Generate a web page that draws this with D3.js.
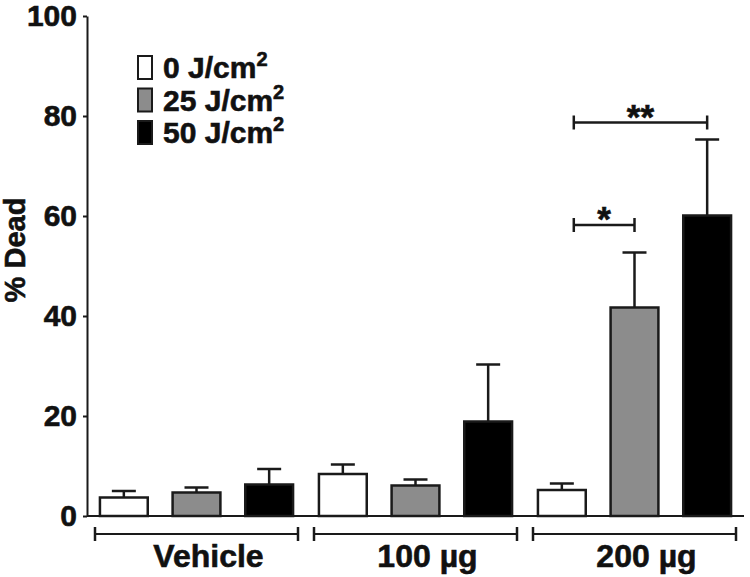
<!DOCTYPE html>
<html>
<head>
<meta charset="utf-8">
<script src="https://cdn.jsdelivr.net/npm/d3@7"></script>
<style>
  body { margin: 0; background: #fff; }
  svg text { font-family: "Liberation Sans", Arial, sans-serif; font-weight: bold; fill: #111; stroke: #111; stroke-width: 0.6px; }
</style>
</head>
<body>
<div id="chart"></div>
<script>
// data
const groups = ['Vehicle', '100 µg', '200 µg'];
const doses = ['0', '25', '50'];
const doseLabels = ['0 J/cm', '25 J/cm', '50 J/cm'];
const doseColors = ['#ffffff', '#8c8c8c', '#000000'];
const meanValues = [
  [3.7, 4.7, 6.3],
  [8.4, 6.1, 18.9],
  [5.2, 41.7, 60.1]
];
const errValues = [
  [1.3, 1.0, 3.1],
  [1.9, 1.2, 11.4],
  [1.3, 11.0, 15.2]
];
const yTicks = [0, 20, 40, 60, 80, 100];
// significance brackets (group, from dose, to dose, level in % dead)
const sigGroup = ['200 µg', '200 µg'];
const sigFrom = ['0', '0'];
const sigTo = ['25', '50'];
const sigLevel = [58.2, 78.7];
const sigLabel = ['*', '**'];

const width = 750, height = 577;
const ink = '#1a1a1a';

const svg = d3.select('#chart').append('svg')
  .attr('width', width)
  .attr('height', height);

// scales
const xGroup = d3.scaleBand().domain(groups).range([87, 744]).padding(0);
const xDose = d3.scaleBand().domain(doses).range([0, xGroup.bandwidth()])
  .paddingInner(0.342).paddingOuter(0.178);
const y = d3.scaleLinear().domain([0, 100]).range([516, 16]);
const color = d3.scaleOrdinal().domain(doses).range(doseColors);

const barCenter = (g, d) => xGroup(g) + xDose(d) + xDose.bandwidth() / 2;

// y axis
const yAxis = svg.append('g')
  .attr('transform', 'translate(87,0)')
  .call(d3.axisLeft(y).tickValues(yTicks).tickSize(4).tickPadding(6).tickSizeOuter(0));
yAxis.select('.domain').attr('stroke', ink).attr('stroke-width', 2);
yAxis.selectAll('.tick line').attr('stroke', ink).attr('stroke-width', 2);
yAxis.selectAll('.tick text').style('font-size', '30px').attr('fill', '#111');

// x axis baseline
svg.append('line')
  .attr('x1', 87).attr('x2', 744)
  .attr('y1', y(0)).attr('y2', y(0))
  .attr('stroke', ink).attr('stroke-width', 2);

// y label
svg.append('text')
  .attr('transform', 'translate(25,250) rotate(-90)')
  .attr('text-anchor', 'middle')
  .style('font-size', '29px')
  .text('% Dead');

// bars
const rows = [];
groups.forEach((g, gi) => {
  doses.forEach((d, di) => {
    rows.push({ group: g, dose: d, value: meanValues[gi][di], err: errValues[gi][di] });
  });
});

const barG = svg.append('g');
// error bars first so the bar top sits over the stem
barG.selectAll('.err')
  .data(rows)
  .join('g')
  .attr('class', 'err')
  .each(function (d) {
    const cx = barCenter(d.group, d.dose);
    const g = d3.select(this);
    g.append('line')
      .attr('x1', cx).attr('x2', cx)
      .attr('y1', y(d.value)).attr('y2', y(d.value + d.err))
      .attr('stroke', ink).attr('stroke-width', 2.5);
    g.append('line')
      .attr('x1', cx - 12).attr('x2', cx + 12)
      .attr('y1', y(d.value + d.err)).attr('y2', y(d.value + d.err))
      .attr('stroke', ink).attr('stroke-width', 2.5);
  });

barG.selectAll('rect')
  .data(rows)
  .join('rect')
  .attr('x', d => xGroup(d.group) + xDose(d.dose))
  .attr('y', d => y(d.value))
  .attr('width', xDose.bandwidth())
  .attr('height', d => y(0) - y(d.value))
  .attr('fill', d => color(d.dose))
  .attr('stroke', ink)
  .attr('stroke-width', 2.5);

// group brackets under the axis
const bracketY = 534;
const brG = svg.append('g');
groups.forEach(g => {
  const x0 = xGroup(g) + 8, x1 = xGroup(g) + xGroup.bandwidth() - 8;
  brG.append('line').attr('x1', x0).attr('x2', x1).attr('y1', bracketY).attr('y2', bracketY)
    .attr('stroke', ink).attr('stroke-width', 2);
  [x0, x1].forEach(xx => {
    brG.append('line').attr('x1', xx).attr('x2', xx).attr('y1', bracketY - 7).attr('y2', bracketY + 7)
      .attr('stroke', ink).attr('stroke-width', 2.5);
  });
  brG.append('text')
    .attr('x', xGroup(g) + xGroup.bandwidth() / 2 + 12)
    .attr('y', 567)
    .attr('text-anchor', 'middle')
    .style('font-size', '32px')
    .text(g);
});

// significance brackets
sigLabel.forEach((lab, i) => {
  const x0 = barCenter(sigGroup[i], sigFrom[i]) + xDose.bandwidth() * 0.25;
  const x1 = barCenter(sigGroup[i], sigTo[i]);
  const yy = y(sigLevel[i]);
  svg.append('line').attr('x1', x0).attr('x2', x1).attr('y1', yy).attr('y2', yy)
    .attr('stroke', ink).attr('stroke-width', 2.5);
  [x0, x1].forEach(xx => {
    svg.append('line').attr('x1', xx).attr('x2', xx).attr('y1', yy - 7).attr('y2', yy + 7)
      .attr('stroke', ink).attr('stroke-width', 2.5);
  });
  svg.append('text')
    .attr('x', (x0 + x1) / 2)
    .attr('y', yy + 6)
    .attr('text-anchor', 'middle')
    .style('font-size', '35px')
    .text(lab);
});

// legend
const legend = svg.append('g').attr('transform', 'translate(137,67)');
doses.forEach((d, i) => {
  const row = legend.append('g').attr('transform', `translate(0,${i * 32.5})`);
  row.append('rect')
    .attr('x', 1).attr('y', -11)
    .attr('width', 14).attr('height', 23)
    .attr('fill', color(d))
    .attr('stroke', ink).attr('stroke-width', 2);
  const t = row.append('text')
    .attr('x', 26).attr('y', 11)
    .style('font-size', '30px');
  t.append('tspan').text(doseLabels[i]);
  t.append('tspan').attr('dy', -12).style('font-size', '20px').text('2');
});
</script>
</body>
</html>
